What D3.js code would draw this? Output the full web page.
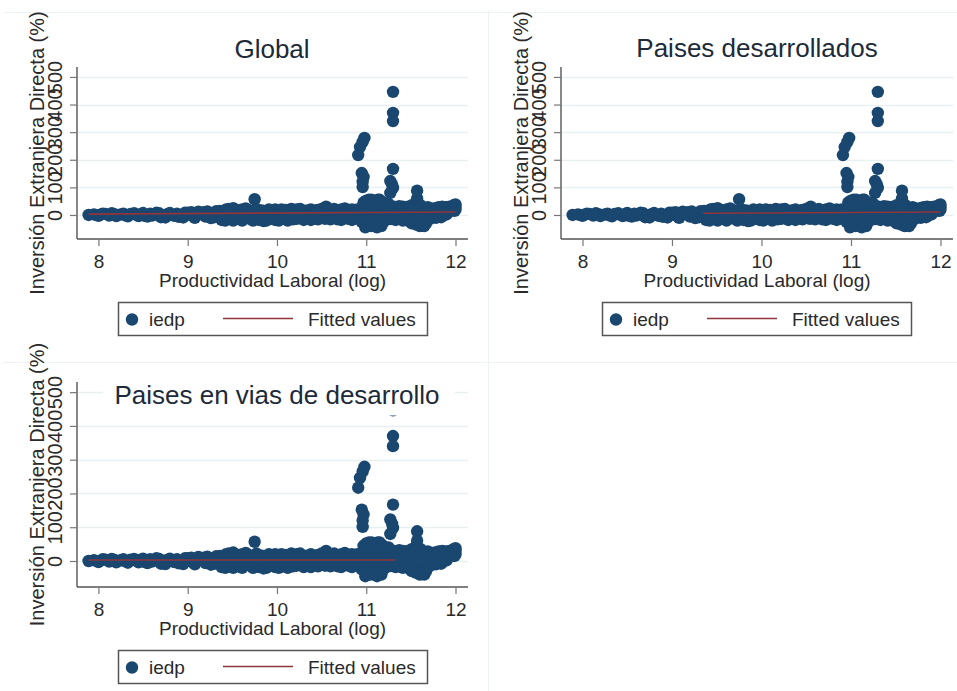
<!DOCTYPE html>
<html>
<head>
<meta charset="utf-8">
<script src="https://cdn.jsdelivr.net/npm/d3@7"></script>
<style>
  body { margin: 0; background: #fff; }
  svg { display: block; font-family: "Liberation Sans", Arial, sans-serif; }
</style>
</head>
<body>
<div class="combo"></div>
<script>
// iedp vs log labour productivity -- same cloud shown in every panel
var iedpPoints = [
  // low band
  [7.89,0],[7.95,2],[8.00,-3],[8.02,1],[8.05,5],[8.08,4],[8.12,-2],[8.15,6],[8.18,3],[8.20,-4],
  [8.25,2],[8.28,5],[8.30,-1],[8.33,-5],[8.36,4],[8.40,6],[8.42,1],[8.45,-4],[8.47,3],[8.50,7],
  [8.52,-3],[8.55,-6],[8.58,5],[8.60,-2],[8.63,2],[8.65,8],[8.68,6],[8.70,-8],[8.72,-6],[8.75,-9],
  [8.77,3],[8.80,7],[8.82,1],[8.85,-3],[8.88,5],[8.90,-7],[8.92,-4],[8.95,-9],[8.97,8],[9.00,8],
  [9.02,2],[9.04,10],[9.06,-5],[9.08,-10],[9.10,6],[9.12,12],[9.15,3],[9.18,10],[9.20,-6],[9.22,13],
  [9.24,7],[9.26,-11],[9.28,1],[9.30,-8],[9.32,14],[9.33,9],
  // middle
  [9.36,15],[9.38,-18],[9.38,8],[9.40,-10],[9.42,2],[9.42,-20],[9.43,20],[9.45,5],[9.45,-5],[9.46,22],
  [9.46,-2],[9.48,-14],[9.50,12],[9.51,-20],[9.51,25],[9.53,0],[9.55,18],[9.56,4],[9.56,-8],[9.58,-12],
  [9.60,8],[9.61,20],[9.61,-20],[9.62,0],[9.63,-8],[9.65,-2],[9.65,24],[9.66,14],[9.68,-12],[9.68,18],
  [9.70,3],[9.72,-15],[9.73,8],[9.73,-20],[9.75,57],[9.77,22],[9.77,-8],[9.78,10],[9.80,-18],[9.80,0],
  [9.82,6],[9.82,-14],[9.83,16],[9.85,-22],[9.86,-6],[9.88,-20],[9.88,4],[9.90,12],[9.91,20],[9.91,-4],
  [9.93,-14],[9.95,2],[9.96,8],[9.98,-18],[9.98,20],[10.00,15],[10.02,4],[10.02,-20],[10.03,-10],[10.05,20],
  [10.05,-15],[10.06,4],[10.08,-6],[10.08,10],[10.10,18],[10.10,-2],[10.12,8],[10.12,-20],[10.13,-12],[10.15,-4],
  [10.15,12],[10.16,22],[10.18,-16],[10.18,18],[10.20,6],[10.22,20],[10.22,-14],[10.24,-8],[10.26,2],[10.26,22],
  [10.28,14],[10.30,8],[10.30,-18],[10.32,2],[10.34,16],[10.34,-4],[10.36,-10],[10.38,20],[10.38,-18],[10.40,12],
  [10.42,-12],[10.42,4],[10.44,16],[10.46,18],[10.46,-16],[10.48,-6],[10.50,-2],[10.50,22],[10.52,10],[10.54,-14],
  [10.54,4],[10.55,30],[10.57,20],[10.57,-2],[10.58,14],[10.60,8],[10.60,-16],[10.62,-8],[10.64,22],[10.64,-4],
  [10.66,18],[10.68,-16],[10.68,12],[10.70,4],[10.70,10],[10.72,20],[10.72,-18],[10.74,-10],[10.76,2],[10.76,24],
  [10.78,15],[10.80,-14],[10.80,18],[10.82,8],[10.84,20],[10.84,-18],[10.85,0],[10.86,-6],[10.88,6],[10.88,-12],
  [10.90,20],
  // spikes near 11
  [10.91,217],[10.93,246],[10.96,265],[10.98,279],[10.95,152],[10.97,138],[10.96,120],[10.96,101],
  [10.93,20],[10.95,-25],[10.97,45],[10.99,-10],[10.99,25],[10.99,-45],[11.00,52],[11.01,40],[11.01,-20],[11.02,30],
  [11.03,55],[11.03,10],[11.04,-35],[11.05,-40],[11.05,0],[11.06,55],[11.07,20],[11.07,45],[11.08,10],[11.09,-10],
  [11.09,5],[11.10,-20],[11.11,50],[11.11,0],[11.12,-45],[11.13,-25],[11.13,55],[11.14,40],[11.15,20],[11.15,-30],
  [11.16,50],[11.17,-40],[11.17,10],[11.18,-15],[11.19,45],[11.19,-25],[11.20,25],[10.96,0],[10.98,-30],[11.01,15],
  [11.03,-5],[11.05,38],[11.07,-25],[11.09,48],[11.11,-38],[11.13,22],[11.15,-10],[11.17,35],[11.19,5],[11.00,-40],
  [11.06,-15],[11.10,30],[11.15,55],[11.20,-5],
  // 11.2 - 11.45
  [11.21,-20],[11.21,35],[11.22,12],[11.23,25],[11.24,-8],[11.26,28],[11.27,-15],[11.27,5],[11.28,20],
  [11.30,446],[11.30,370],[11.30,340],[11.30,167],[11.27,123],[11.29,110],[11.30,98],[11.27,80],
  [11.31,30],[11.32,15],[11.33,-18],[11.33,20],[11.34,-5],[11.36,25],[11.37,-12],[11.37,32],[11.38,10],[11.39,18],
  [11.40,-10],[11.41,-20],[11.41,30],[11.42,22],[11.44,5],[11.45,-15],[11.45,12],[11.46,28],[11.25,40],[11.30,-15],
  [11.35,0],[11.43,-12],
  // 11.45 - 11.7
  [11.47,-20],[11.47,30],[11.48,10],[11.49,25],[11.50,-25],[11.51,-30],[11.51,35],[11.52,15],[11.53,-15],[11.54,30],
  [11.56,45],[11.56,-35],[11.56,10],[11.57,88],[11.57,60],[11.58,-5],[11.59,-20],[11.59,30],[11.60,-40],[11.61,-30],
  [11.61,35],[11.62,20],[11.64,-30],[11.65,-40],[11.65,25],[11.66,10],[11.67,5],[11.67,-30],[11.68,-15],[11.69,-8],
  [11.69,28],[11.70,18],[11.50,-10],[11.55,25],[11.60,0],[11.63,-38],
  // 11.7 - 12
  [11.71,-15],[11.71,25],[11.72,5],[11.73,20],[11.73,-5],[11.75,15],[11.76,-5],[11.77,25],[11.78,-10],[11.79,5],
  [11.80,20],[11.81,-5],[11.81,28],[11.83,8],[11.84,-8],[11.85,10],[11.85,30],[11.86,22],[11.87,0],[11.88,12],
  [11.89,28],[11.90,25],[11.90,2],[11.91,10],[11.92,18],[11.93,30],[11.94,28],[11.95,15],[11.96,22],[11.97,32],
  [11.98,35],[11.99,25],[11.99,15],[12.00,30],[12.00,20],[12.00,38]
];

// fitted values, one line per panel
var fitGlobalX = [7.89, 12.0], fitGlobalY = [3, 11];
var fitDevX = [9.35, 12.0],    fitDevY = [6, 11];
var fitDevpX = [7.89, 11.32],  fitDevpY = [3, 3];

var panelTitles = ["Global", "Paises desarrollados", "Paises en vias de desarrollo"];
var xTicks = [8, 9, 10, 11, 12];
var yTicks = [0, 100, 200, 300, 400, 500];
var xTitle = "Productividad Laboral (log)";
var yTitle = "Inversión Extranjera Directa (%)";
var legendLabels = ["iedp", "Fitted values"];

var navy = "#1a476f",
    maroon = "#90353b",
    gridColor = "#e9f0f2",
    axisColor = "#555",
    textColor = "#2a2a2a";

var W = 957, H = 691;

var svg = d3.select(".combo").append("svg")
    .attr("width", W)
    .attr("height", H);

// faint graph-region outlines from the combine
var frame = svg.append("g").attr("stroke", "#edf2f4").attr("stroke-width", 1.2);
frame.append("line").attr("x1", 3).attr("x2", W).attr("y1", 12.5).attr("y2", 12.5);
frame.append("line").attr("x1", 3).attr("x2", W).attr("y1", 362.5).attr("y2", 362.5);
frame.append("line").attr("x1", 488.5).attr("x2", 488.5).attr("y1", 10).attr("y2", H);

var panels = [
  {left: 77,  top: 67,  width: 391, height: 172, yDom: [-87, 536], fx: fitGlobalX, fy: fitGlobalY,
   titleX: 272, titleY: 58, box: null},
  {left: 561, top: 67,  width: 392, height: 172, yDom: [-87, 536], fx: fitDevX, fy: fitDevY,
   titleX: 757, titleY: 57, box: null},
  {left: 77,  top: 382, width: 391, height: 205, yDom: [-77, 530], fx: fitDevpX, fy: fitDevpY,
   titleX: 277, titleY: 404, box: [103, 374, 352, 41.5]}
];

panels.forEach(function(p, i) {
    var g = svg.append("g");

    var xScale = d3.scaleLinear().domain([7.76, 12.14]).range([p.left, p.left + p.width]),
        yScale = d3.scaleLinear().domain(p.yDom).range([p.top + p.height, p.top]);

    // gridlines
    g.selectAll(".grid")
        .data(yTicks)
      .enter().append("line")
        .attr("x1", p.left)
        .attr("x2", p.left + p.width)
        .attr("y1", function(d) { return Math.round(yScale(d)) + 0.5; })
        .attr("y2", function(d) { return Math.round(yScale(d)) + 0.5; })
        .attr("stroke", gridColor)
        .attr("stroke-width", 1.3);

    // scatter
    g.selectAll(".dot")
        .data(iedpPoints)
      .enter().append("circle")
        .attr("r", 6.2)
        .attr("cx", function(d) { return xScale(d[0]); })
        .attr("cy", function(d) { return yScale(d[1]); })
        .attr("fill", navy);

    // fitted values
    var fit = p.fx.map(function(x, k) { return [x, p.fy[k]]; });
    g.append("path")
        .datum(fit)
        .attr("fill", "none")
        .attr("stroke", maroon)
        .attr("stroke-width", 1.6)
        .attr("d", d3.line()
            .x(function(d) { return xScale(d[0]); })
            .y(function(d) { return yScale(d[1]); }));

    // axes
    var yAxis = g.append("g")
        .attr("transform", "translate(" + p.left + ",0)")
        .call(d3.axisLeft(yScale).tickValues(yTicks).tickSize(7).tickSizeOuter(0).tickPadding(0));
    yAxis.selectAll(".tick text")
        .attr("x", 0).attr("dy", 0)
        .attr("transform", "translate(-15,0) rotate(-90)")
        .style("text-anchor", "middle")
        .style("font-size", "20px")
        .style("fill", textColor);

    var xAxis = g.append("g")
        .attr("transform", "translate(0," + (p.top + p.height) + ")")
        .call(d3.axisBottom(xScale).tickValues(xTicks).tickFormat(d3.format("d"))
            .tickSize(7).tickSizeOuter(0).tickPadding(0));
    xAxis.selectAll(".tick text")
        .attr("y", 29).attr("dy", 0)
        .style("font-size", "19px")
        .style("fill", textColor);

    [yAxis, xAxis].forEach(function(a) {
        a.select(".domain").attr("stroke", axisColor).attr("stroke-width", 1.4);
        a.selectAll(".tick line").attr("stroke", "#777").attr("stroke-width", 1.2);
    });
    // stata-ish: axis lines extend the full plot region
    yAxis.select(".domain").attr("d", "M0," + (p.top + p.height) + "V" + p.top);
    xAxis.select(".domain").attr("d", "M" + p.left + ",0H" + (p.left + p.width));

    // axis titles
    g.append("text")
        .attr("transform", "translate(" + (p.left - 33) + "," + (p.top + p.height / 2) + ") rotate(-90)")
        .style("text-anchor", "middle")
        .style("font-size", "20px")
        .style("fill", textColor)
        .text(yTitle);

    g.append("text")
        .attr("x", p.left + p.width / 2)
        .attr("y", p.top + p.height + 48)
        .style("text-anchor", "middle")
        .style("font-size", "19px")
        .style("fill", textColor)
        .text(xTitle);

    // title, the last panel's one sits on a white box over the plot
    if (p.box) {
        g.append("rect")
            .attr("x", p.box[0]).attr("y", p.box[1])
            .attr("width", p.box[2]).attr("height", p.box[3])
            .attr("fill", "#fff");
    }
    g.append("text")
        .attr("x", p.titleX)
        .attr("y", p.titleY)
        .style("text-anchor", "middle")
        .style("font-size", "26px")
        .style("fill", "#1c2a3a")
        .text(panelTitles[i]);

    // legend
    var lx = p.left + 41, ly = p.top + p.height + 63;
    var leg = g.append("g").attr("transform", "translate(" + lx + "," + ly + ")");
    leg.append("rect")
        .attr("x", 0.5).attr("y", 0.5)
        .attr("width", 309).attr("height", 33)
        .attr("fill", "#fff")
        .attr("stroke", "#555")
        .attr("stroke-width", 1.5);
    leg.append("circle")
        .attr("cx", 14).attr("cy", 17.5).attr("r", 6.2)
        .attr("fill", navy);
    leg.append("text")
        .attr("x", 31).attr("y", 24)
        .style("font-size", "19px").style("fill", textColor)
        .text(legendLabels[0]);
    leg.append("line")
        .attr("x1", 105).attr("x2", 175)
        .attr("y1", 16.5).attr("y2", 16.5)
        .attr("stroke", maroon).attr("stroke-width", 1.6);
    leg.append("text")
        .attr("x", 190).attr("y", 24)
        .style("font-size", "19px").style("fill", textColor)
        .text(legendLabels[1]);
});
</script>
</body>
</html>
